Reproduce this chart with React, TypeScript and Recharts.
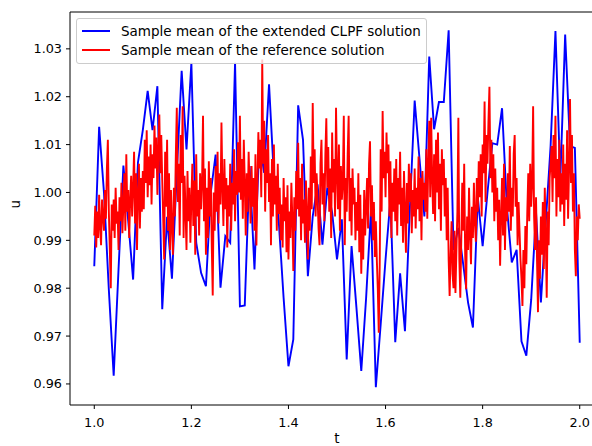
import React from 'react';
import { LineChart, Line, XAxis, YAxis, Legend, ReferenceLine } from 'recharts';

const FONT = '"DejaVu Sans", sans-serif';

// blue: sample mean of the extended CLPF solution, t = 1.00 .. 2.00 step 0.01
const clpfMean = [
  0.9846, 1.0137, 1.0000, 0.9797, 0.9617, 0.9840, 1.0056, 0.9940, 0.9818, 1.0063,
  1.0130, 1.0212, 1.0130, 1.0222, 0.9756, 0.9949, 0.9820, 1.0040, 1.0254, 1.0090,
  1.0271, 0.9895, 0.9832, 0.9804, 1.0000, 1.0079, 0.9801, 0.9909, 0.9895, 1.0271,
  0.9762, 0.9764, 1.0055, 0.9839, 1.0105, 1.0041, 1.0226, 1.0034, 0.9940, 0.9780,
  0.9637, 0.9693, 1.0182, 1.0110, 0.9825, 0.9950, 1.0017, 0.9891, 1.0010, 0.9958,
  0.9860, 0.9944, 0.9651, 0.9888, 0.9760, 0.9627, 0.9780, 0.9964, 0.9593, 0.9725,
  0.9860, 0.9985, 0.9687, 0.9831, 0.9710, 0.9964, 1.0192, 1.0070, 0.9950, 1.0284,
  1.0132, 1.0189, 1.0189, 1.0339, 0.9880, 0.9926, 0.9850, 0.9770, 0.9718, 0.9990,
  0.9888, 1.0000, 1.0103, 1.0100, 1.0176, 0.9970, 0.9854, 0.9880, 0.9689, 0.9659,
  0.9776, 0.9958, 0.9770, 0.9937, 1.0097, 1.0337, 1.0027, 1.0330, 1.0097, 1.0093,
  0.9686,
];

// red: sample mean of the reference solution, t = 1.000 .. 2.000 step 0.002
const refMean = [
  0.9910, 0.9972, 0.9885, 0.9960, 0.9905, 0.9995, 0.9930, 0.9890, 0.9985, 0.9950,
  0.9920, 1.0005, 0.9945, 1.0050, 1.0110, 0.9960, 0.9880, 0.9800, 0.9975, 0.9920,
  0.9985, 0.9905, 1.0010, 0.9935, 0.9960, 0.9880, 0.9990, 0.9940, 1.0020, 0.9915,
  0.9975, 1.0040, 0.9920, 1.0080, 0.9960, 1.0005, 0.9905, 0.9985, 1.0035, 0.9950,
  1.0010, 1.0085, 0.9935, 1.0040, 0.9880, 0.9995, 1.0060, 0.9925, 1.0030, 0.9960,
  1.0045, 0.9965, 1.0110, 1.0020, 1.0130, 0.9990, 1.0075, 1.0015, 1.0100, 0.9975,
  1.0080, 1.0030, 1.0140, 1.0050, 1.0115, 0.9995, 1.0090, 1.0163, 1.0040, 1.0120,
  1.0025, 0.9945, 0.9860, 1.0085, 0.9970, 1.0110, 0.9920, 1.0040, 0.9880, 1.0005,
  0.9930, 0.9870, 1.0010, 0.9950, 1.0080, 1.0177, 0.9980, 1.0060, 0.9910, 1.0120,
  1.0020, 1.0180, 0.9905, 1.0035, 0.9960, 0.9880, 1.0045, 0.9940, 1.0010, 0.9895,
  0.9985, 1.0060, 0.9930, 1.0025, 0.9870, 1.0080, 0.9950, 1.0005, 0.9910, 1.0040,
  0.9965, 1.0020, 1.0160, 0.9940, 1.0050, 0.9870, 1.0010, 0.9905, 1.0065, 0.9950,
  1.0030, 0.9890, 0.9785, 1.0000, 0.9920, 1.0055, 0.9960, 1.0085, 0.9935, 1.0040,
  0.9975, 1.0146, 1.0010, 0.9930, 1.0070, 0.9965, 1.0030, 0.9885, 1.0015, 0.9950,
  1.0060, 0.9920, 1.0020, 0.9975, 1.0090, 0.9940, 1.0045, 0.9995, 1.0105, 1.0000,
  1.0160, 0.9985, 1.0070, 0.9945, 1.0110, 1.0020, 0.9910, 1.0040, 0.9960, 1.0085,
  1.0010, 0.9935, 1.0055, 0.9970, 1.0030, 0.9920, 1.0080, 0.9889, 1.0020, 1.0126,
  1.0050, 1.0110, 0.9990, 1.0278, 1.0060, 1.0150, 0.9960, 1.0090, 1.0020, 1.0120,
  0.9980, 1.0040, 0.9890, 1.0070, 0.9950, 1.0100, 0.9975, 1.0035, 0.9920, 1.0060,
  0.9955, 1.0010, 0.9900, 0.9975, 0.9885, 1.0030, 0.9940, 0.9990, 0.9875, 1.0015,
  0.9860, 0.9960, 0.9905, 1.0020, 0.9945, 0.9836, 0.9990, 0.9920, 1.0045, 0.9965,
  1.0104, 0.9950, 1.0030, 0.9900, 1.0060, 0.9935, 0.9985, 0.9895, 1.0025, 0.9955,
  0.9860, 1.0010, 0.9920, 1.0075, 0.9965, 1.0187, 1.0020, 1.0090, 0.9950, 1.0040,
  0.9990, 0.9925, 0.9890, 1.0060, 1.0110, 0.9975, 1.0040, 0.9940, 1.0080, 1.0155,
  1.0010, 1.0095, 0.9960, 1.0050, 0.9905, 1.0125, 1.0000, 1.0070, 0.9950, 1.0177,
  1.0040, 0.9965, 1.0100, 0.9920, 1.0055, 0.9985, 1.0020, 1.0160, 0.9890, 1.0030,
  0.9960, 1.0080, 1.0160, 0.9940, 1.0030, 0.9910, 1.0050, 0.9975, 1.0010, 0.9900,
  0.9980, 0.9920, 1.0040, 0.9875, 0.9995, 0.9830, 0.9945, 0.9860, 1.0005, 0.9910,
  0.9970, 1.0030, 0.9925, 1.0060, 1.0107, 0.9950, 1.0015, 0.9900, 0.9980, 0.9865,
  0.9940, 0.9860, 0.9800, 0.9707, 0.9850, 1.0090, 0.9960, 1.0170, 1.0030, 1.0085,
  0.9990, 1.0125, 1.0040, 1.0100, 0.9950, 1.0065, 0.9905, 1.0020, 0.9960, 1.0050,
  0.9940, 1.0070, 0.9910, 1.0030, 0.9975, 1.0085, 0.9930, 1.0010, 0.9895, 1.0045,
  0.9960, 0.9874, 1.0020, 0.9935, 1.0060, 0.9980, 1.0040, 0.9915, 1.0005, 0.9950,
  1.0050, 0.9925, 1.0010, 0.9965, 1.0075, 0.9940, 1.0030, 0.9900, 1.0045, 0.9985,
  1.0020, 0.9960, 1.0090, 0.9945, 1.0060, 1.0150, 0.9990, 1.0156, 1.0030, 0.9955,
  1.0080, 0.9940, 1.0110, 1.0000, 1.0125, 0.9965, 1.0060, 0.9920, 1.0090, 1.0015,
  1.0070, 0.9950, 1.0030, 0.9900, 1.0010, 0.9860, 0.9784, 0.9870, 0.9940, 0.9830,
  0.9800, 0.9920, 0.9790, 0.9880, 0.9960, 1.0156, 0.9860, 0.9780, 0.9900, 1.0020,
  0.9920, 1.0060, 0.9870, 0.9798, 0.9950, 0.9880, 1.0010, 0.9910, 0.9850, 0.9970,
  0.9905, 1.0020, 0.9940, 0.9897, 1.0030, 0.9960, 1.0065, 0.9990, 1.0080, 0.9950,
  1.0100, 1.0040, 1.0190, 0.9980, 1.0120, 1.0060, 1.0150, 1.0221, 1.0030, 1.0110,
  1.0000, 1.0080, 0.9940, 1.0050, 0.9960, 1.0010, 0.9900, 0.9985, 0.9847, 0.9950,
  1.0030, 0.9910, 1.0060, 0.9880, 0.9990, 0.9940, 1.0040, 0.9960, 1.0097, 0.9920,
  1.0010, 0.9950, 1.0080, 1.0120, 0.9970, 1.0030, 0.9890, 0.9980, 0.9920, 0.9860,
  0.9820, 0.9763, 0.9880, 0.9800, 0.9930, 0.9850, 0.9960, 1.0040, 0.9940, 1.0060,
  0.9970, 1.0020, 1.0180, 0.9950, 0.9880, 0.9990, 0.9860, 0.9750, 0.9900, 0.9820,
  0.9950, 0.9870, 0.9980, 0.9840, 1.0010, 0.9910, 0.9780, 0.9960, 0.9890, 1.0030,
  1.0060, 1.0097, 0.9980, 1.0120, 1.0030, 1.0160, 0.9950, 1.0070, 0.9990, 1.0110,
  0.9960, 1.0040, 0.9975, 1.0100, 0.9930, 1.0060, 0.9985, 1.0130, 0.9945, 1.0050,
  1.0195, 1.0020, 1.0120, 0.9960, 1.0040, 0.9880, 0.9825, 0.9950, 0.9900, 0.9975,
  0.9945,
];

const xTicks = [1.0, 1.2, 1.4, 1.6, 1.8, 2.0];
const yTicks = [0.96, 0.97, 0.98, 0.99, 1.0, 1.01, 1.02, 1.03];
const X_DOMAIN = [0.95, 2.05];
const Y_DOMAIN = [0.9556, 1.0377];

const clpfData = clpfMean.map((u, i) => ({ t: 1 + i / 100, u }));
const refData = refMean.map((u, i) => ({ t: 1 + i / 500, u }));

const renderLegend = (props: any) => {
  const { payload = [] } = props;
  return (
    <div
      style={{
        border: '1px solid #cccccc',
        borderRadius: 3,
        background: 'rgba(255,255,255,0.8)',
        padding: '2px 5px 3px 5px',
        fontFamily: FONT,
        fontSize: 13.5,
        color: '#000',
        whiteSpace: 'nowrap',
      }}
    >
      {payload.map((entry: any) => (
        <div key={entry.value} style={{ display: 'flex', alignItems: 'center', height: 19.5 }}>
          <span
            style={{
              display: 'inline-block',
              width: 28,
              borderTop: `2px solid ${entry.color}`,
              marginRight: 11,
            }}
          />
          {entry.value}
        </div>
      ))}
    </div>
  );
};

export default function App() {
  return (
    <div style={{ position: 'absolute', left: 0, top: 0, width: 592, height: 446, overflow: 'hidden', background: '#fff' }}>
      <LineChart width={620} height={446} margin={{ top: 12, right: 16, bottom: 0, left: 0 }}>
        <XAxis
          type="number"
          dataKey="t"
          domain={X_DOMAIN}
          ticks={xTicks}
          tickFormatter={(v: number) => v.toFixed(1)}
          tickSize={4}
          tickMargin={9}
          height={41}
          axisLine={{ stroke: '#000', strokeWidth: 1 }}
          tickLine={{ stroke: '#000' }}
          tick={{ fill: '#000', fontSize: 12.8, fontFamily: FONT }}
          label={{ value: 't', position: 'insideBottom', offset: 3, fill: '#000', fontSize: 13.5, fontFamily: FONT }}
        />
        <YAxis
          type="number"
          domain={Y_DOMAIN}
          ticks={yTicks}
          tickFormatter={(v: number) => v.toFixed(2)}
          width={70}
          tickSize={4}
          tickMargin={4}
          allowDataOverflow
          axisLine={{ stroke: '#000', strokeWidth: 1 }}
          tickLine={{ stroke: '#000' }}
          tick={{ fill: '#000', fontSize: 12.8, fontFamily: FONT }}
          label={{ value: 'u', angle: -90, position: 'insideLeft', offset: 15, fill: '#000', fontSize: 13.5, fontFamily: FONT }}
        />
        <ReferenceLine y={Y_DOMAIN[1]} stroke="#000" strokeWidth={1} ifOverflow="visible" />
        <Legend
          layout="horizontal"
          verticalAlign="middle"
          align="center"
          content={renderLegend}
          wrapperStyle={{ position: 'absolute', left: 76, top: 18, width: 'auto' }}
        />
        <Line
          data={clpfData}
          dataKey="u"
          name="Sample mean of the extended CLPF solution"
          stroke="#0000ff"
          strokeWidth={1.9}
          dot={false}
          isAnimationActive={false}
        />
        <Line
          data={refData}
          dataKey="u"
          name="Sample mean of the reference solution"
          stroke="#ff0000"
          strokeWidth={1.9}
          dot={false}
          isAnimationActive={false}
        />
      </LineChart>
    </div>
  );
}
